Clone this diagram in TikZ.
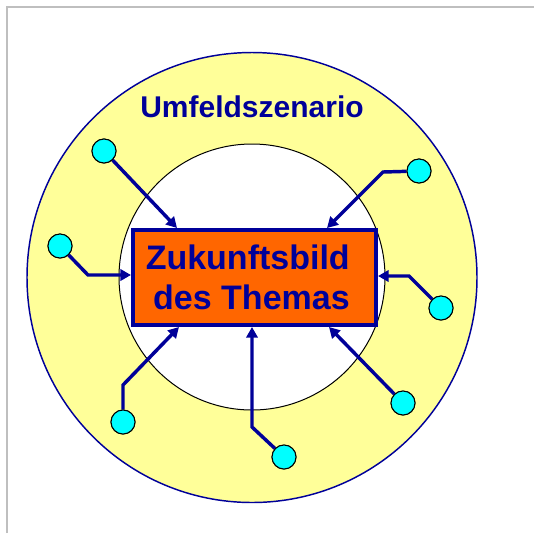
\documentclass[tikz,border=0pt]{standalone}
\usepackage{fontspec}
\setmainfont{Liberation Sans}
\usetikzlibrary{arrows.meta}
\definecolor{navy}{HTML}{000099}
\definecolor{paleyellow}{HTML}{FFFF99}
\definecolor{boxorange}{HTML}{FF6600}
\definecolor{knob}{HTML}{00FFFF}
\definecolor{framegray}{HTML}{BFBFBF}
\tikzset{
  feeder/.style={draw=navy, line width=2.6pt, line join=miter,
    -{Triangle[length=8pt,width=8.5pt]}},
  knobnode/.style={circle, draw=black, fill=knob, line width=0.75pt,
    minimum size=18pt, inner sep=0pt},
  bildbox/.style={draw=navy, fill=boxorange, line width=3pt,
    minimum width=182.25pt, minimum height=71.25pt, inner sep=0pt},
  bildtext/.style={text=navy, font=\bfseries\fontsize{25.5}{30}\selectfont,
    inner sep=0pt, anchor=base east},
}
\begin{document}
\begin{tikzpicture}[x=0.75pt, y=-0.75pt]
  \useasboundingbox (0,0) rectangle (534,533);
  % frame edges
  \draw[framegray, line width=1.5pt] (7,533) -- (7,7) -- (534,7);
  % surrounding scenario ring and inner field
  \draw[navy, fill=paleyellow, line width=1.1pt] (252,277.5) circle[radius=168.75pt];
  \draw[black, fill=white, line width=0.75pt] (252,277) circle[radius=99.75pt];
  \node[text=navy, font=\bfseries\fontsize{22.5}{26}\selectfont, inner sep=0pt,
    anchor=base] (umfeld) at (252,117) {Umfeldszenario};
  % central box
  \node[bildbox] (bild) at (254.5,277.5) {};
  \node[bildtext] (zeile1) at (350,269) {Zukunftsbild};
  \node[bildtext] (zeile2) at (350,309) {des Themas};
  % influence factors
  \node[knobnode] (k1) at (104,151) {};
  \node[knobnode] (k2) at (419,171) {};
  \node[knobnode] (k3) at (60,246) {};
  \node[knobnode] (k4) at (441,308) {};
  \node[knobnode] (k5) at (123,422) {};
  \node[knobnode] (k6) at (284,457) {};
  \node[knobnode] (k7) at (403,403) {};
  % bend points
  \coordinate (b2) at (383,172);
  \coordinate (b3) at (88,275);
  \coordinate (b4) at (409,276);
  \coordinate (b5) at (123,385);
  \coordinate (b6) at (252,427);
  % connectors
  \draw[feeder] (k1) -- (177,0 |- bild.north);
  \draw[feeder] (k2) -- (b2) -- (327,0 |- bild.north);
  \draw[feeder] (k3) -- (b3) -- (bild.west |- b3);
  \draw[feeder] (k4) -- (b4) -- (bild.east |- b4);
  \draw[feeder] (k5) -- (b5) -- (179,0 |- bild.south);
  \draw[feeder] (k6) -- (b6) -- (b6 |- bild.south);
  \draw[feeder] (k7) -- (329,0 |- bild.south);
  % redraw knobs above line starts
  \foreach \k in {k1,k2,k3,k4,k5,k6,k7}
    \node[knobnode] at (\k) {};
\end{tikzpicture}
\end{document}
